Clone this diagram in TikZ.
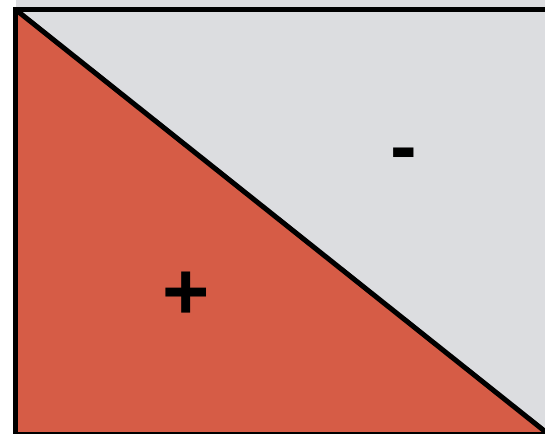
\documentclass[tikz,border=0pt]{standalone}
\usepackage{fontspec}
\setmainfont{Liberation Sans}
\definecolor{areaRed}{RGB}{214, 92, 70}
\definecolor{areaGray}{RGB}{220, 221, 224}

\begin{document}
\begin{tikzpicture}[x=1pt, y=1pt]
    \useasboundingbox (0,0) rectangle (545,433);
    \fill[areaGray] (15.5,423.5) rectangle (548,433.5);
    \fill[areaGray] (15.5,0) rectangle (548,423.5);
    \fill[areaRed] (15.5,423.5) -- (547,0) -- (15.5,0) -- cycle;
    \draw[line width=5pt, line join=miter] (15.5,423.5) -- (547,0);
    \draw[line width=5pt] (15.5,-3) -- (15.5,423.5) -- (550,423.5);
    \draw[line width=2pt] (15.5,0) -- (550,0);

    \node (plus) at (186,137) {\fontsize{81}{81}\selectfont\bfseries +};
    \node (minus) at (404,272) {\fontsize{80}{80}\selectfont\bfseries -};
  \end{tikzpicture}
\end{document}
